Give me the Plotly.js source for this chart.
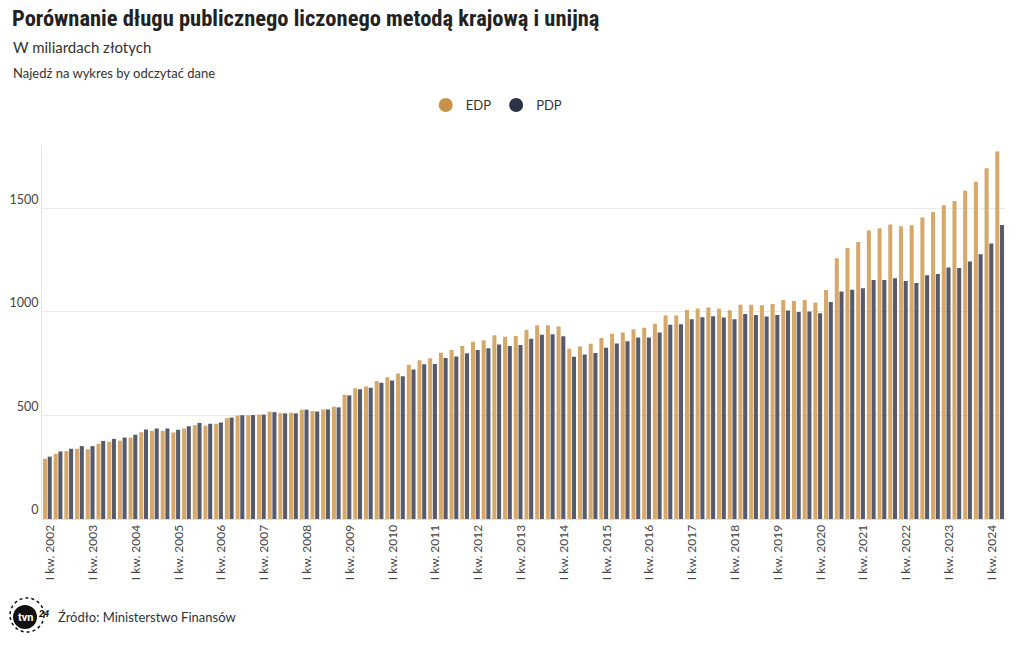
<!DOCTYPE html>
<html>
<head>
<meta charset="utf-8">
<script src="https://cdn.plot.ly/plotly-3.0.1.min.js"></script>
<style>
html,body{margin:0;padding:0;background:#fff;}
#chart{width:1020px;height:650px;}
</style>
</head>
<body>
<div id="chart"></div>
<script>
// Quarters (categories)
const quarters = [
"I kw. 2002","II kw. 2002","III kw. 2002","IV kw. 2002",
"I kw. 2003","II kw. 2003","III kw. 2003","IV kw. 2003",
"I kw. 2004","II kw. 2004","III kw. 2004","IV kw. 2004",
"I kw. 2005","II kw. 2005","III kw. 2005","IV kw. 2005",
"I kw. 2006","II kw. 2006","III kw. 2006","IV kw. 2006",
"I kw. 2007","II kw. 2007","III kw. 2007","IV kw. 2007",
"I kw. 2008","II kw. 2008","III kw. 2008","IV kw. 2008",
"I kw. 2009","II kw. 2009","III kw. 2009","IV kw. 2009",
"I kw. 2010","II kw. 2010","III kw. 2010","IV kw. 2010",
"I kw. 2011","II kw. 2011","III kw. 2011","IV kw. 2011",
"I kw. 2012","II kw. 2012","III kw. 2012","IV kw. 2012",
"I kw. 2013","II kw. 2013","III kw. 2013","IV kw. 2013",
"I kw. 2014","II kw. 2014","III kw. 2014","IV kw. 2014",
"I kw. 2015","II kw. 2015","III kw. 2015","IV kw. 2015",
"I kw. 2016","II kw. 2016","III kw. 2016","IV kw. 2016",
"I kw. 2017","II kw. 2017","III kw. 2017","IV kw. 2017",
"I kw. 2018","II kw. 2018","III kw. 2018","IV kw. 2018",
"I kw. 2019","II kw. 2019","III kw. 2019","IV kw. 2019",
"I kw. 2020","II kw. 2020","III kw. 2020","IV kw. 2020",
"I kw. 2021","II kw. 2021","III kw. 2021","IV kw. 2021",
"I kw. 2022","II kw. 2022","III kw. 2022","IV kw. 2022",
"I kw. 2023","II kw. 2023","III kw. 2023","IV kw. 2023",
"I kw. 2024","II kw. 2024"
];

// Dług liczony metodą unijną (EDP), mld zł
const edp = [
291,315,328,339,337,363,373,378,393,419,
426,426,418,437,453,451,460,487,500,501,
504,518,511,513,528,521,529,542,600,631,
640,666,684,702,745,766,776,803,816,835,
856,863,887,880,884,914,935,935,930,822,
833,846,874,895,900,916,924,943,983,983,
1009,1016,1021,1015,1008,1035,1035,1032,1038,1057,
1053,1057,1046,1106,1259,1309,1338,1393,1404,1422,
1414,1419,1456,1483,1515,1536,1585,1628,1694,1775
];

// Państwowy dług publiczny (PDP), mld zł
const pdp = [
301,326,339,352,352,377,387,393,407,432,
437,437,431,448,464,460,466,490,501,502,
504,516,510,510,528,519,529,539,597,626,
634,658,669,689,722,747,748,777,785,800,
816,824,843,835,840,871,890,892,882,783,
794,802,827,848,858,877,877,900,938,940,
964,974,979,973,964,990,985,978,985,1007,
999,1002,993,1048,1099,1107,1114,1154,1154,1162,
1149,1140,1177,1183,1214,1212,1243,1278,1330,1420
];

// Tick labels on the x axis
const tickLabels = [
"I kw. 2002","I kw. 2003","I kw. 2004","I kw. 2005","I kw. 2006","I kw. 2007",
"I kw. 2008","I kw. 2009","I kw. 2010","I kw. 2011","I kw. 2012","I kw. 2013",
"I kw. 2014","I kw. 2015","I kw. 2016","I kw. 2017","I kw. 2018","I kw. 2019",
"I kw. 2020","I kw. 2021","I kw. 2022","I kw. 2023","I kw. 2024"
];
const yTicks = [0, 500, 1000, 1500];

const seriesNames = ["EDP", "PDP"];
const barColors = ["#d6a86a", "#565a6b"];
const dotColors = ["#c9924a", "#2d3248"];

const BODY = "Lato, 'Source Sans Pro', 'Noto Sans', sans-serif";
const TITLE = "'Roboto Condensed', 'Liberation Sans Narrow', 'DejaVu Sans Condensed', Roboto, sans-serif";

const W = 1020, H = 650;
const M = {l: 42, r: 15, t: 145, b: 131};
const plotW = W - M.l - M.r, plotH = H - M.t - M.b;
const px2x = p => (p - M.l) / plotW;
const py2y = p => 1 - (p - M.t) / plotH;

// positions of the light separator lines beside each year label
const sepVals = tickLabels.map(t => quarters.indexOf(t) + 0.95);

const traces = [
  {type: "bar", name: seriesNames[0], x: quarters, y: edp,
   marker: {color: barColors[0]}, showlegend: false,
   hovertemplate: "%{x}<br>EDP: %{y} mld zł<extra></extra>"},
  {type: "bar", name: seriesNames[1], x: quarters, y: pdp,
   marker: {color: barColors[1]}, showlegend: false,
   hovertemplate: "%{x}<br>PDP: %{y} mld zł<extra></extra>"},
  {type: "scatter", mode: "markers", name: seriesNames[0], x: [null], y: [null],
   marker: {color: dotColors[0], size: 14, symbol: "circle"}, showlegend: true, hoverinfo: "skip"},
  {type: "scatter", mode: "markers", name: seriesNames[1], x: [null], y: [null],
   marker: {color: dotColors[1], size: 14, symbol: "circle"}, showlegend: true, hoverinfo: "skip"}
];

const layout = {
  width: W, height: H,
  margin: M,
  paper_bgcolor: "#fff", plot_bgcolor: "#fff",
  font: {family: BODY, color: "#333", size: 12},
  barmode: "group",
  bargap: 0.12,
  bargroupgap: 0.14,
  title: {
    text: "Porównanie długu publicznego liczonego metodą krajową i unijną",
    font: {family: TITLE, size: 22.5, color: "#222", weight: 700},
    x: 12 / W, xref: "container", xanchor: "left",
    y: 1 - 10 / H, yref: "container", yanchor: "top"
  },
  legend: {
    orientation: "h",
    xref: "container", x: 0.487, xanchor: "center",
    yref: "container", y: 1 - 105 / H, yanchor: "middle",
    font: {family: BODY, size: 13, color: "#333"},
    itemwidth: 30,
    traceorder: "normal"
  },
  xaxis: {
    type: "category",
    tickmode: "array",
    tickvals: tickLabels,
    ticktext: tickLabels,
    tickangle: -90,
    ticks: "",
    ticklabelshift: 3,
    tickfont: {family: BODY, size: 12, color: "#444"},
    showgrid: false,
    showline: true, linecolor: "#dedede", linewidth: 1,
    zeroline: false,
    fixedrange: true,
    automargin: false
  },
  xaxis2: {
    type: "linear",
    overlaying: "x",
    anchor: "y",
    side: "bottom",
    range: [-0.5, quarters.length - 0.5],
    tickmode: "array",
    tickvals: sepVals,
    showticklabels: false,
    ticks: "outside", ticklen: 60, tickcolor: "#ececec", tickwidth: 1,
    showgrid: false, showline: false, zeroline: false,
    fixedrange: true
  },
  yaxis: {
    range: [0, 1806],
    tickmode: "array",
    tickvals: yTicks,
    ticktext: yTicks.map(String),
    ticks: "",
    ticklabelshift: -9,
    tickfont: {family: BODY, size: 12.5, color: "#444"},
    showgrid: true, gridcolor: "#e9e9e9", gridwidth: 1,
    showline: true, linecolor: "#e6e6e6", linewidth: 1,
    zeroline: false,
    fixedrange: true,
    automargin: false
  },
  annotations: [
    {text: "W miliardach złotych", xref: "paper", yref: "paper",
     x: px2x(11), y: py2y(47), xanchor: "left", yanchor: "middle", showarrow: false,
     font: {family: BODY, size: 15, color: "#333"}},
    {text: "Najedź na wykres by odczytać dane", xref: "paper", yref: "paper",
     x: px2x(11), y: py2y(73), xanchor: "left", yanchor: "middle", showarrow: false,
     font: {family: BODY, size: 13, color: "#333"}},
    {text: "Źródło: Ministerstwo Finansów", xref: "paper", yref: "paper",
     x: px2x(56), y: py2y(617), xanchor: "left", yanchor: "middle", showarrow: false,
     font: {family: BODY, size: 13, color: "#333"}},
    {text: "<b>tvn</b>", xref: "paper", yref: "paper",
     x: px2x(25), y: py2y(617), xanchor: "center", yanchor: "middle", showarrow: false,
     font: {family: "Roboto, sans-serif", size: 11, color: "#fff"}},
    {text: "<b><i>24</i></b>", xref: "paper", yref: "paper",
     x: px2x(44), y: py2y(614), xanchor: "center", yanchor: "middle", showarrow: false,
     font: {family: "Roboto, sans-serif", size: 9, color: "#111"}}
  ],
  shapes: [
    {type: "circle", xref: "paper", yref: "paper", xsizemode: "pixel", ysizemode: "pixel",
     xanchor: px2x(25), yanchor: py2y(617), x0: -12, x1: 12, y0: -12, y1: 12,
     fillcolor: "#111", line: {width: 0}},
    {type: "circle", xref: "paper", yref: "paper", xsizemode: "pixel", ysizemode: "pixel",
     xanchor: px2x(27), yanchor: py2y(615), x0: -17, x1: 17, y0: -17, y1: 17,
     fillcolor: "rgba(0,0,0,0)", line: {width: 1.5, color: "#111", dash: "dot"}}
  ],
  hovermode: "closest"
};

Plotly.newPlot("chart", traces, layout, {displayModeBar: false, responsive: false});
</script>
</body>
</html>
